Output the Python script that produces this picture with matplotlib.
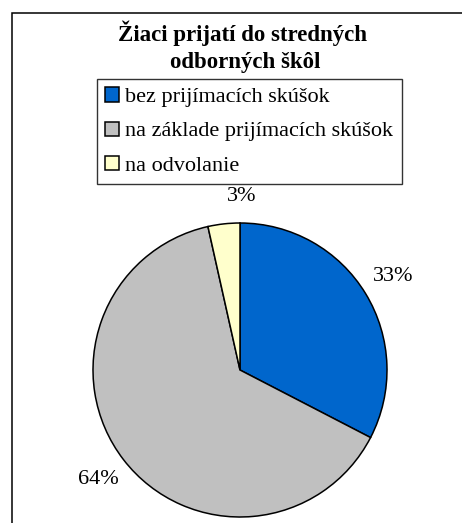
import matplotlib
matplotlib.use('Agg')
import matplotlib.pyplot as plt
from matplotlib.patches import Rectangle

# data
categories = ['bez prijímacích skúšok', 'na základe prijímacích skúšok', 'na odvolanie']
shares = [32.6, 63.9, 3.5]
pct_labels = ['33%', '64%', '3%']
colors = ['#0066CC', '#C0C0C0', '#FFFFCC']

W, H = 462, 523
DPI = 100
fig = plt.figure(figsize=(W / DPI, H / DPI), dpi=DPI)
fig.patch.set_facecolor('white')
plt.rcParams['font.family'] = ['Liberation Serif', 'DejaVu Serif']

# outer frame (clipped by the image edge on right and bottom)
fig.patches.append(Rectangle((11.5 / W, -0.05), 1.2, 1 - 12.5 / H + 0.05,
                             transform=fig.transFigure, fill=False,
                             edgecolor='black', linewidth=1.1))

# title
fig.text(243 / W, 1 - 33 / H, 'Žiaci prijatí do stredných', ha='center', va='center',
         fontsize=16.5, fontweight='bold')
fig.text(245 / W, 1 - 62 / H, 'odborných škôl', ha='center', va='center',
         fontsize=16.5, fontweight='bold')

# pie
cx, cy, r = 240, 370, 147
ax = fig.add_axes([(cx - r) / W, (H - cy - r) / H, 2 * r / W, 2 * r / H])
wedges, texts = ax.pie(shares, labels=pct_labels, colors=colors, startangle=90,
                       counterclock=False, labeldistance=1.22,
                       wedgeprops=dict(edgecolor='black', linewidth=1.1),
                       textprops=dict(fontsize=16))
for t in texts:
    t.set_ha('center')
    t.set_va('center')
# small slice label sits straight above the centre
texts[2].set_position((0.01, 1.18))
ax.set_xlim(-1, 1)
ax.set_ylim(-1, 1)

# legend
leg = fig.legend(wedges, categories, loc='upper left',
                 bbox_to_anchor=(97 / W, 1 - 79 / H), fontsize=16,
                 frameon=True, fancybox=False, handlelength=0.6, handleheight=0.6,
                 handletextpad=0.3, borderpad=0.38, labelspacing=0.64,
                 borderaxespad=0)
leg.get_frame().set_edgecolor('black')
leg.get_frame().set_linewidth(1.0)

fig.savefig('out.png', dpi=DPI, facecolor='white')
